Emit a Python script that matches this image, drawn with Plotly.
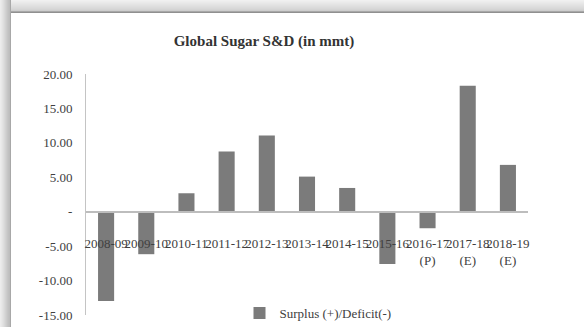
import plotly.graph_objects as go

# ---- data ----
seasons = ["2008-09", "2009-10", "2010-11", "2011-12", "2012-13", "2013-14",
           "2014-15", "2015-16", "2016-17", "2017-18", "2018-19"]
season_labels = ["2008-09", "2009-10", "2010-11", "2011-12", "2012-13", "2013-14",
                 "2014-15", "2015-16", "2016-17<br>(P)", "2017-18<br>(E)", "2018-19<br>(E)"]
surplus_deficit = [-12.97, -6.17, 2.68, 8.75, 11.08, 5.10, 3.45, -7.60, -2.40, 18.28, 6.80]
y_tick_vals = [20, 15, 10, 5, 0, -5, -10, -15]
y_tick_text = ["20.00", "15.00", "10.00", "5.00", "-", "-5.00", "-10.00", "-15.00"]
series_name = "Surplus (+)/Deficit(-)"
title_text = "Global Sugar S&D (in mmt)"

W, H = 584, 327
ML, MR, MT, MB = 86, 56, 74, 12
PW, PH = W - ML - MR, H - MT - MB
YMIN, YMAX = -15, 20

def px_x(x):
    return (x - ML) / PW

def px_y(y):
    return (H - MB - y) / PH

FONT = "Liberation Serif"
TXT = "#404040"

fig = go.Figure()
fig.add_trace(go.Bar(
    x=seasons, y=surplus_deficit, name=series_name,
    marker=dict(color="#7b7b7b", line=dict(width=0)),
    showlegend=True,
))

# decorative shadow frame (top and left)
shapes = []
left_cols = ["#ececec", "#e8e8e8", "#e3e3e3", "#dedede", "#d8d8d8", "#d2d2d2",
             "#cccccc", "#c6c6c6", "#c1c1c1", "#bdbdbd", "#a8a8a8"]
for i, c in enumerate(left_cols):
    shapes.append(dict(type="rect", xref="paper", yref="paper", layer="above",
                       x0=px_x(i), x1=px_x(i + 1), y0=px_y(H), y1=px_y(0),
                       fillcolor=c, line=dict(width=0)))
top_cols = ["#f0f0f0", "#ededed", "#eaeaea", "#e7e7e7", "#e4e4e4", "#e1e1e1",
            "#dedede", "#dbdbdb", "#d8d8d8", "#d4d4d4", "#cecece", "#a8a8a8", "#909090"]
for j, c in enumerate(top_cols):
    shapes.append(dict(type="rect", xref="paper", yref="paper", layer="above",
                       x0=px_x(11), x1=px_x(W), y0=px_y(j + 1), y1=px_y(j),
                       fillcolor=c, line=dict(width=0)))

fig.update_layout(
    width=W, height=H,
    margin=dict(l=ML, r=MR, t=MT, b=MB, autoexpand=False),
    paper_bgcolor="white", plot_bgcolor="white",
    bargap=0.6,
    font=dict(family=FONT, color=TXT, size=13),
    title=dict(text=title_text, x=264 / W, xref="container", xanchor="center",
               y=1 - 41 / H, yref="container", yanchor="middle",
               font=dict(family=FONT, size=15, color="#333333", weight="bold")),
    xaxis=dict(
        type="category", anchor="free", position=(0 - YMIN) / (YMAX - YMIN),
        showline=True, linecolor="#bdbdbd", linewidth=1.5,
        showgrid=False, zeroline=False,
        tickmode="array", tickvals=seasons, ticktext=season_labels,
        tickangle=0, ticks="", ticklabelstandoff=20,
        tickfont=dict(family=FONT, size=13, color=TXT),
    ),
    yaxis=dict(
        range=[YMIN, YMAX], showline=True, linecolor="#c4c4c4", linewidth=1,
        showgrid=False, zeroline=False,
        tickmode="array", tickvals=y_tick_vals, ticktext=y_tick_text,
        ticks="", ticklabelstandoff=10,
        tickfont=dict(family=FONT, size=13, color=TXT),
    ),
    legend=dict(orientation="h", x=px_x(318), xref="paper", xanchor="center",
                y=px_y(313), yref="paper", yanchor="middle",
                font=dict(family=FONT, size=13, color=TXT),
                bgcolor="rgba(0,0,0,0)", itemwidth=30),
    shapes=shapes,
)

fig.write_html("out.html", config={"displayModeBar": False},
               post_script="document.body.style.margin='0px';document.body.style.overflow='hidden';")
